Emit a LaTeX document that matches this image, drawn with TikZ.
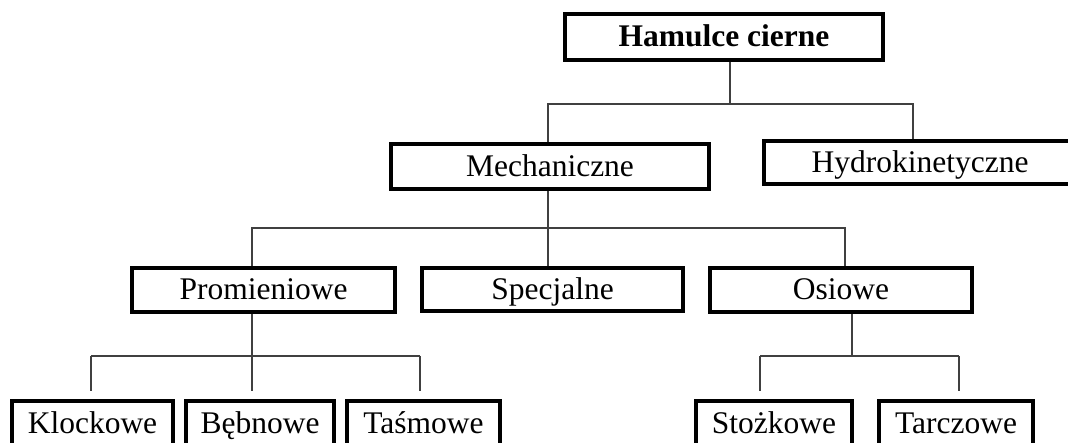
\documentclass[tikz,border=0pt]{standalone}
\usepackage{fontspec}
\setmainfont{Liberation Serif}
\begin{document}
\begin{tikzpicture}[x=1pt,y=-1pt,
  box/.style={draw=black, line width=4pt, fill=white, inner sep=0pt,
    font=\fontsize{31.5}{36}\selectfont, text height=22pt, text depth=2pt},
  conn/.style={draw=black!75, line width=1.2pt},
  lowconn/.style={conn, shorten >=8pt}]
  % page frame
  \useasboundingbox (0,0) rectangle (1068,443);
  \fill[white] (0,0) rectangle (1068,443);
  \clip (0,0) rectangle (1068,443);

  % boxes
  \node[box, minimum width=318pt, minimum height=46pt] (ham)   at (724,37)    {\textbf{Hamulce cierne}};
  \node[box, minimum width=318pt, minimum height=45pt] (mech)  at (550,166.5) {Mechaniczne};
  \node[box, minimum width=312pt, minimum height=43pt] (hydro) at (920,162.5) {Hydrokinetyczne};
  \node[box, minimum width=263pt, minimum height=44pt] (prom)  at (263.5,290) {Promieniowe};
  \node[box, minimum width=261pt, minimum height=43pt] (spec)  at (552.5,289.5) {Specjalne};
  \node[box, minimum width=262pt, minimum height=44pt] (osi)   at (841,290)   {Osiowe};
  \node[box, minimum width=161pt, minimum height=44pt] (klo)   at (92.5,423)  {Klockowe};
  \node[box, minimum width=148pt, minimum height=44pt] (beb)   at (260,423)   {Bębnowe};
  \node[box, minimum width=153pt, minimum height=44pt] (tas)   at (423.5,423) {Taśmowe};
  \node[box, minimum width=156pt, minimum height=44pt] (sto)   at (774,423)   {Stożkowe};
  \node[box, minimum width=154pt, minimum height=44pt] (tar)   at (956,423)   {Tarczowe};

  % junction points of the branch lines
  \coordinate (j1)  at (730,104);
  \coordinate (j1l) at (548,104);
  \coordinate (j1r) at (913,104);
  \coordinate (j2)  at (548,228);
  \coordinate (j2l) at (252,228);
  \coordinate (j2r) at (845,228);
  \coordinate (j3)  at (252,356);
  \coordinate (j3l) at (91,356);
  \coordinate (j3r) at (420,356);
  \coordinate (j4)  at (852,356);
  \coordinate (j4l) at (760,356);
  \coordinate (j4r) at (959,356);

  % level 1
  \draw[conn] (ham.south -| j1) -- (j1);
  \draw[conn] (mech.north -| j1l) -- (j1l) -- (j1r) -- (hydro.north -| j1r);

  % level 2
  \draw[conn] (mech.south -| j2) -- (spec.north -| j2);
  \draw[conn] (prom.north -| j2l) -- (j2l) -- (j2r) -- (osi.north -| j2r);

  % level 3, radial brakes
  \draw[lowconn] (prom.south -| j3) -- (beb.north -| j3);
  \draw[conn] (j3l) -- (j3r);
  \draw[lowconn] (j3l) -- (klo.north -| j3l);
  \draw[lowconn] (j3r) -- (tas.north -| j3r);

  % level 3, axial brakes
  \draw[conn] (osi.south -| j4) -- (j4);
  \draw[conn] (j4l) -- (j4r);
  \draw[lowconn] (j4l) -- (sto.north -| j4l);
  \draw[lowconn] (j4r) -- (tar.north -| j4r);
\end{tikzpicture}
\end{document}
